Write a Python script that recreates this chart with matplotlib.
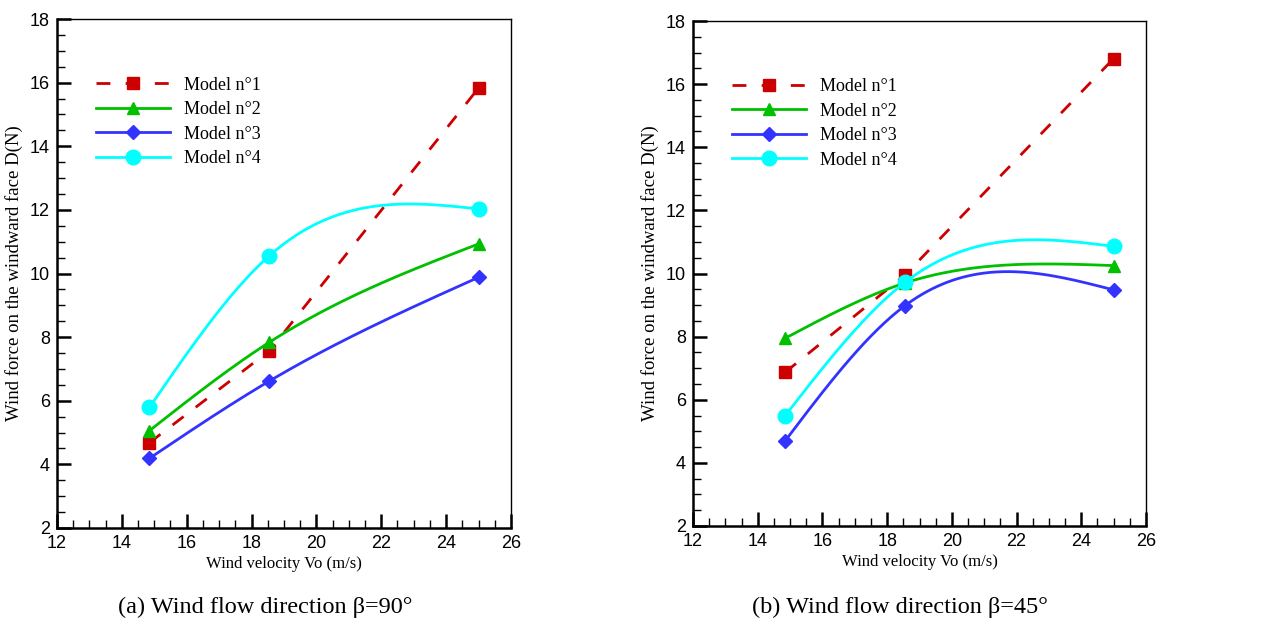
import numpy as np
import matplotlib
matplotlib.use("Agg")
import matplotlib.pyplot as plt
from matplotlib.ticker import MultipleLocator

# wind velocity (m/s)
velocity = [14.85, 18.55, 25.0]

# (a) beta = 90 deg
a_model1 = [4.68, 7.57, 15.83]
a_model2 = [5.06, 7.84, 10.93]
a_model3 = [4.19, 6.62, 9.88]
a_model4 = [5.79, 10.56, 12.03]

# (b) beta = 45 deg
b_model1 = [6.87, 9.95, 16.81]
b_model2 = [7.95, 9.70, 10.25]
b_model3 = [4.70, 8.98, 9.48]
b_model4 = [5.50, 9.72, 10.86]

labels = ["Model n°1", "Model n°2", "Model n°3", "Model n°4"]
captions = ["(a) Wind flow direction β=90°", "(b) Wind flow direction β=45°"]

colors = ["#cc0000", "#00c000", "#3333ff", "#00ffff"]
markers = ["s", "^", "D", "o"]
msizes = [8, 8.5, 7.5, 10.5]

serif = "Liberation Serif"
sans = "Liberation Sans"


def natural_spline(x, y, n=200):
    # natural cubic spline through the points, like the smooth curves in the plot
    x = np.asarray(x, float)
    y = np.asarray(y, float)
    k = len(x)
    h = np.diff(x)
    A = np.zeros((k, k))
    r = np.zeros(k)
    A[0, 0] = A[-1, -1] = 1
    for i in range(1, k - 1):
        A[i, i - 1] = h[i - 1]
        A[i, i] = 2 * (h[i - 1] + h[i])
        A[i, i + 1] = h[i]
        r[i] = 6 * ((y[i + 1] - y[i]) / h[i] - (y[i] - y[i - 1]) / h[i - 1])
    M = np.linalg.solve(A, r)
    xs = np.linspace(x[0], x[-1], n)
    ys = np.empty_like(xs)
    for j, xv in enumerate(xs):
        i = min(np.searchsorted(x, xv, side="right") - 1, k - 2)
        a = x[i + 1] - xv
        b = xv - x[i]
        ys[j] = (M[i] * a**3 + M[i + 1] * b**3) / (6 * h[i]) \
            + (y[i] / h[i] - M[i] * h[i] / 6) * a \
            + (y[i + 1] / h[i] - M[i + 1] * h[i] / 6) * b
    return xs, ys


W, H = 1277, 624
fig = plt.figure(figsize=(W / 100, H / 100), dpi=100)

panels = [
    ((57, 19, 511, 528), [a_model1, a_model2, a_model3, a_model4]),
    ((693, 21, 1146, 526), [b_model1, b_model2, b_model3, b_model4]),
]

lw = 2.0

for p, ((x0, y0, x1, y1), series) in enumerate(panels):
    ax = fig.add_axes([x0 / W, 1 - y1 / H, (x1 - x0) / W, (y1 - y0) / H])
    for i, vals in enumerate(series):
        if i == 0:
            ax.plot(velocity, vals, color=colors[i], lw=lw, dashes=(5, 5.5),
                    marker=markers[i], ms=msizes[i], label=labels[i])
        else:
            xs, ys = natural_spline(velocity, vals)
            ax.plot(xs, ys, color=colors[i], lw=lw)
            ax.plot(velocity, vals, color=colors[i], lw=0, marker=markers[i],
                    ms=msizes[i])
            # legend proxy with line and marker
            ax.plot([], [], color=colors[i], lw=lw, marker=markers[i],
                    ms=msizes[i], label=labels[i])

    ax.set_xlim(12, 26)
    ax.set_ylim(2, 18)
    ax.xaxis.set_major_locator(MultipleLocator(2))
    ax.xaxis.set_minor_locator(MultipleLocator(0.5))
    ax.yaxis.set_major_locator(MultipleLocator(2))
    ax.yaxis.set_minor_locator(MultipleLocator(0.5))
    ax.tick_params(which="major", direction="in", length=10, width=1.8,
                   labelsize=13, pad=5)
    ax.tick_params(which="minor", direction="in", length=6, width=1)
    for lab in ax.get_xticklabels() + ax.get_yticklabels():
        lab.set_fontfamily(sans)
    ax.spines["left"].set_linewidth(1.8)
    ax.spines["bottom"].set_linewidth(1.8)
    ax.spines["top"].set_linewidth(1)
    ax.spines["right"].set_linewidth(1)

    ax.set_xlabel("Wind velocity Vo (m/s)", fontfamily=serif, fontsize=12,
                  labelpad=3)
    ax.set_ylabel("Wind force on the windward face D(N)", fontfamily=serif,
                  fontsize=13.5, labelpad=5)

    ax.legend(loc="upper left", bbox_to_anchor=(0.086, 0.887), frameon=False,
              prop={"family": serif, "size": 13}, handlelength=4.1,
              handletextpad=0.75, labelspacing=0.42, borderpad=0,
              borderaxespad=0, markerscale=1)

    cx = (x0 + x1) / 2 / W
    fig.text(cx - 0.015, 1 - 607 / H, captions[p], ha="center", va="center",
             fontfamily=serif, fontsize=17.5)

fig.savefig("out.png", dpi=100)
